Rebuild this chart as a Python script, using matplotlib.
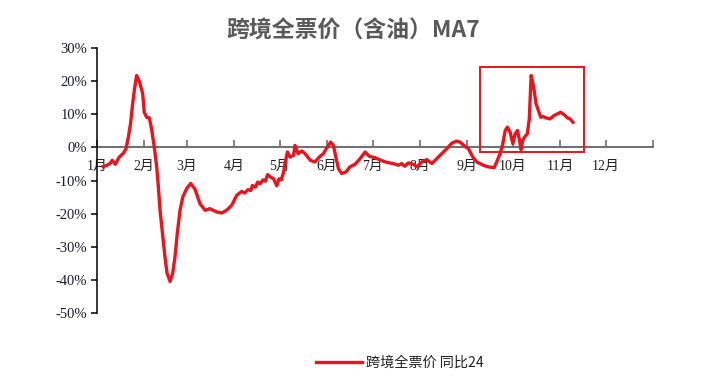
import matplotlib
matplotlib.use("Agg")
import matplotlib.pyplot as plt
from matplotlib.patches import Rectangle
import numpy as np

plt.rcParams['font.family'] = ['Noto Sans CJK SC', 'DejaVu Sans']

title = "跨境全票价（含油）MA7"
series_name = "跨境全票价 同比24"

# day of year (2025) and YoY change in %
days = [4, 6, 8.5, 10, 12, 14.5, 17, 19, 20.6, 22, 23.4, 24.5, 26, 28, 30, 31, 32.6, 34.4,
        36, 37.6, 39.2, 40.3, 41.4, 43, 44.6, 46, 48, 49.7, 51.2, 52.7, 54.5, 56.3, 58.9,
        61.5, 64.3, 67.6, 71, 74, 78.6, 81.9, 85, 88.4, 91.7, 93, 95, 97, 99, 101, 102,
        104, 105.5, 107, 109, 110.5, 112, 114, 116, 118, 119.5, 121, 122.5, 123.4, 125,
        126.7, 129, 130, 132, 134.4,
        136.6, 140, 143, 146, 148.6, 151.2, 153.4, 155.2, 157, 158.5, 160.6, 163.5, 166,
        169.4, 172.7, 176, 178.8, 182.5, 185.8, 190, 194.5, 197.8, 200, 202, 204.4, 207.7,
        210.3, 213.2, 216.5, 219.8, 223, 226.3, 229.6, 233, 236, 238.3, 241.6, 243.8, 246.7,
        249.3, 253.6, 257, 260.7, 262.4, 264.6, 266.4, 268, 269.4, 271.2, 273, 274.5, 276,
        277.4, 278.4, 279.5, 281, 282.5, 283.8, 285, 286.5, 288.2, 289.8, 291.3, 293, 294.8,
        297.4, 300, 302.2, 304.4, 306.6, 308.8, 310.6, 312.4]
values = [-5.8, -5.5, -4.9, -3.9, -5.1, -3.0, -1.9, -0.5, 3.1, 7.1, 13.2, 17.2, 21.7, 19.7,
          16.2, 10.6, 9.1, 8.9, 5.1, 0.1, -5.9, -12, -19, -26, -33, -38, -40.5, -38, -33,
          -26, -19, -15, -12.4, -10.9, -12.6, -17, -19, -18.5, -19.5, -19.8, -19, -17.5,
          -14.5, -14, -13.3, -13.8, -12.8, -13, -11.5, -12, -10.5, -11, -9.8, -10.2, -8.2,
          -9, -9.5, -11.6, -9.5, -9.8, -7.5, -4.9, -1.4,
          -2.9, -2.4, 0.6, -1.9, -1.1, -1.9, -3.9, -4.4, -2.9, -1.9, 0.1, 1.6, 0.6, -3.4,
          -6.4, -7.9, -7.4, -5.9, -5.1, -3.4, -1.4, -2.7, -3.1, -3.8, -4.5, -4.9, -5.4, -4.9,
          -5.7, -4.7, -5.1, -5.9, -4.4, -3.7, -4.9, -3.4, -1.9, -0.4, 1.3, 1.9, 1.6, 0.3,
          -0.4, -2.9, -4.4, -5.4, -5.9, -6.1, -4.4, -1.9, 1.1, 5.1, 6.1, 4.6, 1.1, 4.1, 5.1,
          2.1, -0.7, 2.1, 3.3, 4.1, 8.6, 21.7, 18.7, 13.2, 11.1, 9.1, 9.3, 8.9, 8.6, 9.6,
          10.1, 10.6, 9.9, 8.9, 8.6, 7.6]

month_labels = ["1月", "2月", "3月", "4月", "5月", "6月", "7月", "8月", "9月", "10月", "11月", "12月"]
month_starts = [0, 31, 59, 90, 120, 151, 181, 212, 243, 273, 304, 334, 365]
y_ticks = [30, 20, 10, 0, -10, -20, -30, -40, -50]

# highlight box (day range, value range)
box_days = (251.5, 319.7)
box_vals = (-1.5, 24.4)

red = "#E8141E"

fig = plt.figure(figsize=(7.03, 3.88), dpi=100)
ax = fig.add_axes([97 / 703, 1 - 313 / 388, (653 - 97) / 703, (313 - 48) / 388])

ax.plot(days, values, color=red, lw=2.4, solid_joinstyle='round', label=series_name,
        zorder=3)

ax.add_patch(Rectangle((box_days[0], box_vals[0]), box_days[1] - box_days[0],
                       box_vals[1] - box_vals[0], fill=False, edgecolor=red, lw=1.4,
                       clip_on=False, zorder=4))

ax.set_xlim(0, 365)
ax.set_ylim(-50, 30)

ax.spines['top'].set_visible(False)
ax.spines['right'].set_visible(False)
ax.spines['left'].set_color('black')
ax.spines['left'].set_linewidth(1.1)
ax.spines['bottom'].set_position(('data', 0))
ax.spines['bottom'].set_color('#6e6e6e')
ax.spines['bottom'].set_linewidth(1.4)
ax.spines['bottom'].set_zorder(2)

ax.set_xticks(month_starts)
ax.set_xticklabels(month_labels + [""], family=['Liberation Serif', 'Noto Sans CJK SC'],
                   fontsize=10)
ax.tick_params(axis='x', direction='in', length=5, width=1.2, color='#6e6e6e', pad=9,
               labelcolor='#222222')

ax.set_yticks(y_ticks)
ax.set_yticklabels([f"{v}%" for v in y_ticks], family='Liberation Serif', fontsize=10.5)
ax.tick_params(axis='y', direction='out', length=4, width=1.1, color='black', pad=3,
               labelcolor='#1a1a2e')

fig.text(0.503, 1 - 31 / 388, title, ha='center', va='center', fontsize=16.5,
         fontweight='bold', color='#595959')

fig.legend(loc='center', bbox_to_anchor=(400 / 703, 1 - 363 / 388), frameon=False,
           fontsize=10.2, handlelength=3.2, handletextpad=0.3, labelcolor='#222222')

fig.savefig("out.png", dpi=100)
